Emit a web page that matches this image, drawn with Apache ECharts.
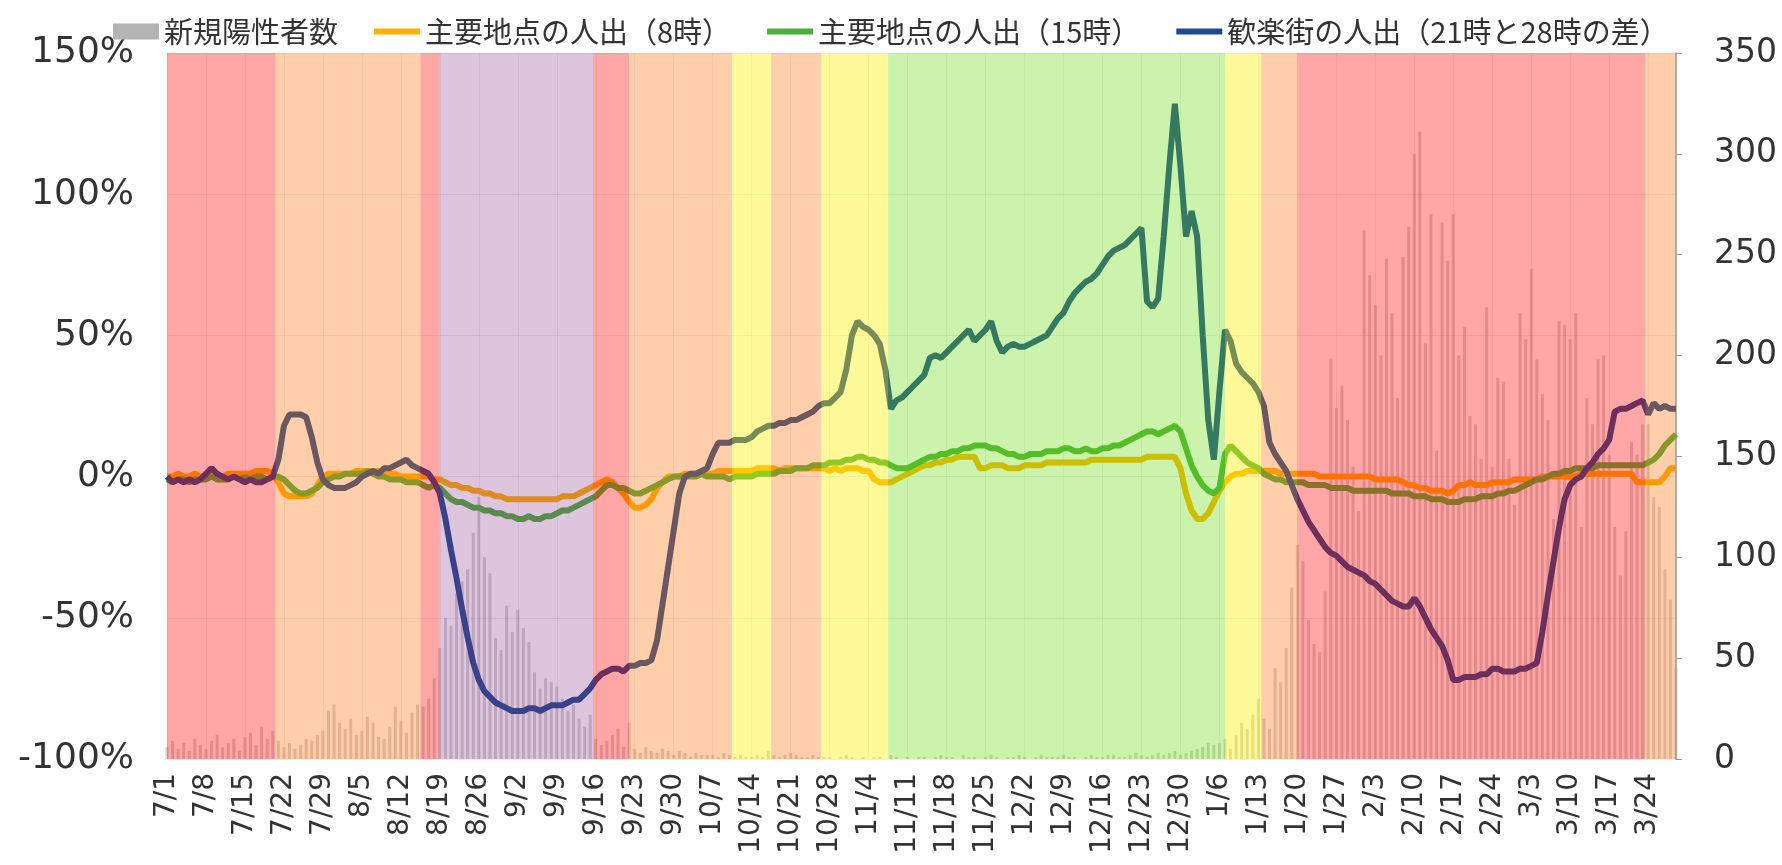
<!DOCTYPE html>
<html>
<head>
<meta charset="utf-8">
<script src="https://cdn.jsdelivr.net/npm/echarts@6/dist/echarts.min.js"></script>
<style>
  html, body { margin: 0; padding: 0; background: #fff; }
  #chart { width: 1782px; height: 865px; }
</style>
</head>
<body>
<div id="chart"></div>
<script>
// 日付ラベル 7/1〜3/29（日次）
const dates = []
for (let d = new Date(2020, 6, 1); d <= new Date(2021, 2, 29); d.setDate(d.getDate() + 1)) {
  dates.push((d.getMonth() + 1) + '/' + d.getDate())
}

// 新規陽性者数（右軸）
const newCases = [
  6, 9, 5, 8, 4, 10, 7,   5, 9, 12, 6, 8, 10, 4,   11, 13, 7, 16, 10, 14, 9,
  6, 8, 5, 7, 10, 9, 12,   14, 24, 27, 18, 15, 20, 12,   14, 21, 18, 11, 10, 16, 26,
  19, 13, 23, 27, 26, 30, 40,   55, 70, 66, 82, 88, 94, 112,   130, 100, 92, 60, 54, 76, 63,
  74, 65, 58, 43, 35, 40, 38,   36, 30, 24, 27, 20, 16, 22,   10, 7, 9, 12, 15, 6, 18,
  5, 3, 6, 4, 3, 5, 4,   2, 4, 3, 1, 3, 2, 2,   2, 1, 3, 2, 1, 2, 1,
  1, 2, 1, 4, 2, 1, 2,   3, 2, 1, 1, 2, 1, 1,   1, 0, 1, 2, 1, 0, 1,
  0, 1, 1, 0, 2, 1, 0,   1, 0, 1, 1, 0, 1, 2,   1, 1, 0, 2, 1, 1, 0,
  1, 2, 1, 0, 1, 1, 2,   1, 0, 1, 2, 1, 1, 1,   2, 1, 1, 0, 1, 2, 1,
  1, 2, 2, 1, 1, 2, 3,   2, 1, 2, 3, 2, 3, 4,   2, 3, 4, 5, 6, 8, 7,
  8, 10, 5, 12, 18, 15, 22,   30, 20, 15, 45, 38, 55, 85,   106, 98, 69, 57, 53, 83, 198,
  174, 185, 168, 145, 123, 262, 240,   225, 200, 248, 221, 179, 249, 264,   300, 311, 206, 270, 153, 266, 247,
  270, 200, 214, 170, 166, 149, 224,   145, 189, 187, 149, 126, 221, 208,   243, 198, 181, 168, 119, 217, 215,
  208, 221, 115, 179, 166, 198, 200,   151, 115, 91, 113, 157, 151, 166,   166, 130, 125, 94, 79, 45
]

// 主要地点の人出（8時） %
const morning8 = [
  0, 0, 1, 0, 0, 1, 0,   0, 1, 0, 0, 1, 1, 1,   1, 1, 2, 2, 2, 1, -2,
  -6, -7, -7, -7, -7, -6, -3,   0, 1, 1, 1, 1, 1, 2,   2, 2, 2, 2, 1, 1, 1,
  0, 0, 0, 0, 0, 0, -1,   -1, -2, -3, -3, -4, -4, -5,   -5, -6, -6, -7, -7, -8, -8,
  -8, -8, -8, -8, -8, -8, -8,   -8, -7, -7, -7, -6, -5, -4,   -3, -2, -1, -2, -4, -6, -9,
  -11, -11, -10, -8, -4, -2, 0,   0, 0, 1, 1, 1, 1, 1,   1, 2, 2, 2, 2, 2, 2,
  2, 3, 3, 3, 3, 2, 3,   3, 3, 3, 3, 3, 3, 3,   2, 3, 2, 3, 3, 3, 2,
  2, -1, -2, -2, -2, -1, 0,   1, 2, 3, 4, 4, 5, 5,   6, 6, 7, 7, 7, 7, 3,
  3, 4, 4, 4, 3, 3, 3,   4, 4, 4, 4, 5, 5, 5,   5, 5, 5, 5, 5, 6, 6,
  6, 6, 6, 6, 6, 6, 6,   6, 7, 7, 7, 7, 7, 7,   3, -6, -12, -15, -15, -13, -9,
  -5, -2, 0, 1, 1, 2, 2,   2, 2, 2, 2, 1, 1, 1,   1, 1, 1, 1, 0, 0, 0,
  0, 0, 0, 0, 0, 0, 0,   -1, -1, -1, -1, -1, -2, -3,   -3, -4, -4, -5, -5, -5, -6,
  -5, -3, -3, -2, -3, -3, -3,   -2, -2, -2, -2, -1, -1, -1,   -1, -1, 0, 0, 0, 0, 0,
  0, 0, 1, 1, 1, 1, 1,   1, 1, 1, 1, 1, -2, -2,   -2, -2, -2, 0, 3, 3
]

// 主要地点の人出（15時） %
const afternoon15 = [
  -1, -2, -1, -1, -2, -1, -1,   -1, 0, -1, -1, -1, 0, -1,   0, -1, 0, 0, -1, 0, 0,
  -1, -3, -5, -6, -6, -5, -4,   -2, -1, 0, 0, 1, 1, 1,   1, 2, 1, 0, 0, -1, -1,
  -1, -2, -2, -2, -3, -4, -3,   -4, -6, -8, -9, -9, -10, -11,   -11, -12, -12, -13, -13, -14, -14,
  -15, -15, -14, -15, -15, -14, -14,   -13, -12, -12, -11, -10, -9, -8,   -7, -5, -3, -3, -4, -4, -5,
  -6, -6, -5, -4, -3, -2, -1,   0, 0, 0, 0, 0, 1, 0,   0, 0, 0, -1, 0, 0, 0,
  0, 1, 1, 1, 1, 2, 2,   2, 3, 3, 3, 4, 4, 4,   5, 5, 5, 6, 6, 7, 7,
  6, 6, 5, 5, 4, 3, 3,   3, 4, 5, 6, 7, 7, 8,   8, 9, 9, 10, 10, 11, 11,
  11, 10, 10, 9, 8, 8, 7,   7, 8, 8, 8, 9, 9, 9,   10, 10, 9, 9, 10, 9, 9,
  10, 10, 11, 11, 12, 13, 14,   15, 16, 16, 15, 16, 17, 18,   16, 10, 4, 0, -3, -5, -6,
  -4, 8, 11, 9, 7, 5, 4,   3, 1, 0, -1, -1, -2, -2,   -2, -2, -3, -3, -3, -3, -4,
  -4, -4, -4, -5, -5, -5, -5,   -5, -5, -5, -6, -6, -6, -6,   -7, -7, -7, -8, -8, -8, -9,
  -9, -9, -8, -8, -8, -7, -7,   -7, -6, -6, -5, -5, -4, -3,   -2, -1, -1, 0, 1, 1, 2,
  2, 3, 3, 3, 3, 4, 4,   4, 4, 4, 4, 4, 4, 4,   5, 6, 8, 11, 13, 15
]

// 歓楽街の人出（21時と28時の差） %
const nightlife = [
  0, -2, -1, -2, -1, -2, -1,   1, 3, 1, 0, -1, 0, -1,   -2, -1, -2, -2, -1, 0, 6,
  18, 22, 22, 22, 21, 14, 5,   -1, -3, -4, -4, -4, -3, -2,   0, 1, 2, 1, 3, 3, 4,
  5, 6, 4, 3, 2, 1, -2,   -6, -15, -26, -36, -47, -57, -66,   -72, -76, -78, -80, -81, -82, -83,
  -83, -83, -82, -82, -83, -82, -81,   -81, -81, -80, -79, -79, -77, -75,   -72, -70, -69, -68, -68, -69, -67,
  -67, -66, -66, -65, -58, -45, -32,   -19, -6, 0, 1, 1, 2, 3,   8, 12, 12, 12, 13, 13, 13,
  14, 16, 17, 18, 18, 19, 19,   20, 20, 21, 22, 23, 25, 26,   26, 28, 30, 38, 50, 55, 53,
  52, 50, 47, 38, 24, 27, 28,   30, 32, 34, 36, 42, 43, 42,   44, 46, 48, 50, 52, 48, 50,
  52, 55, 48, 44, 46, 47, 46,   46, 47, 48, 49, 50, 53, 56,   58, 62, 65, 67, 69, 70, 72,
  75, 78, 80, 81, 82, 84, 86,   88, 62, 60, 63, 85, 110, 132,   110, 85, 94, 85, 50, 20, 6,
  30, 52, 48, 40, 37, 35, 33,   30, 25, 12, 8, 5, 2, -3,   -8, -12, -16, -19, -22, -25, -27,
  -28, -30, -32, -33, -34, -35, -37,   -38, -40, -42, -44, -45, -46, -46,   -43, -46, -50, -54, -57, -60, -65,
  -72, -72, -71, -71, -71, -70, -70,   -68, -68, -69, -69, -69, -68, -68,   -67, -66, -55, -42, -30, -18, -8,
  -3, -1, 0, 3, 5, 8, 10,   13, 23, 24, 24, 25, 26, 27,   22, 26, 24, 25, 24, 24
]

// 背景の期間区分（日インデックス）
const bandStart = [0, 19.5, 45.5, 49, 76.5, 83, 101.5, 108.5, 117.5, 129.5, 190, 196.5, 203, 265.5]
const bandEnd = [19.5, 45.5, 49, 76.5, 83, 101.5, 108.5, 117.5, 129.5, 190, 196.5, 203, 265.5, 271]
const bandKind = ['red', 'orange', 'red', 'purple', 'red', 'orange', 'yellow', 'orange', 'yellow', 'green', 'yellow', 'orange', 'red', 'orange']

const leftTicks = [-100, 150, 50]
const rightTicks = [0, 350, 50]

const bandColors = {
  red: 'rgba(255,0,0,0.35)',
  orange: 'rgba(255,112,6,0.34)',
  purple: 'rgba(128,40,130,0.27)',
  yellow: 'rgba(255,240,0,0.40)',
  green: 'rgba(100,220,0,0.33)'
}

const chart = echarts.init(document.getElementById('chart'))
const labelFont = 'DejaVu Sans'
const lineIcon = 'path://M0,0H46V6H0Z'

const option = {
  animation: false,
  backgroundColor: '#fff',
  legend: {
    left: 108,
    top: 12,
    itemGap: 36,
    itemWidth: 46,
    itemHeight: 16,
    textStyle: { fontSize: 29, fontFamily: 'Noto Sans CJK JP', color: '#333' },
    data: [
      { name: '新規陽性者数', icon: 'rect', itemStyle: { color: '#b4b4b4', opacity: 1 } },
      { name: '主要地点の人出（8時）', icon: lineIcon },
      { name: '主要地点の人出（15時）', icon: lineIcon },
      { name: '歓楽街の人出（21時と28時の差）', icon: lineIcon }
    ]
  },
  grid: { left: 167, right: 106, top: 53, bottom: 106 },
  xAxis: [
    {
      type: 'category',
      data: dates,
      boundaryGap: false,
      axisLine: { show: false },
      axisTick: { show: false },
      axisLabel: {
        interval: 6,
        rotate: 90,
        margin: 14,
        fontSize: 28,
        fontFamily: labelFont,
        color: '#333'
      },
      splitLine: { show: true, interval: 6, lineStyle: { color: 'rgba(0,0,0,0.06)', width: 1 } }
    },
    {
      type: 'value',
      min: 0,
      max: 271,
      show: false
    }
  ],
  yAxis: [
    {
      type: 'value',
      min: leftTicks[0],
      max: leftTicks[1],
      interval: leftTicks[2],
      axisLine: { show: false },
      axisTick: { show: false },
      axisLabel: {
        formatter: '{value}%',
        margin: 33,
        fontSize: 36,
        fontFamily: labelFont,
        color: '#333'
      },
      splitLine: { lineStyle: { color: 'rgba(0,0,0,0.07)' } }
    },
    {
      type: 'value',
      position: 'right',
      min: rightTicks[0],
      max: rightTicks[1],
      interval: rightTicks[2],
      axisLine: { show: true, lineStyle: { color: '#999', width: 1.5 } },
      axisTick: { show: true, length: 6, lineStyle: { color: '#999' } },
      axisLabel: {
        margin: 38,
        fontSize: 33,
        fontFamily: labelFont,
        color: '#333'
      },
      splitLine: { show: false }
    }
  ],
  series: [
    {
      name: '新規陽性者数',
      type: 'bar',
      yAxisIndex: 1,
      data: newCases,
      barWidth: 3,
      itemStyle: { color: 'rgba(170,170,170,0.5)' },
      z: 1
    },
    {
      name: '主要地点の人出（8時）',
      type: 'line',
      data: morning8,
      symbol: 'none',
      lineStyle: { color: '#ffb000', width: 6 },
      itemStyle: { color: '#ffb000' },
      z: 2
    },
    {
      name: '主要地点の人出（15時）',
      type: 'line',
      data: afternoon15,
      symbol: 'none',
      lineStyle: { color: '#4caf3c', width: 6 },
      itemStyle: { color: '#4caf3c' },
      z: 3
    },
    {
      name: '歓楽街の人出（21時と28時の差）',
      type: 'line',
      data: nightlife,
      symbol: 'none',
      lineStyle: { color: '#1f4b8f', width: 6 },
      itemStyle: { color: '#1f4b8f' },
      z: 4
    },
    {
      name: 'bands',
      type: 'custom',
      xAxisIndex: 1,
      yAxisIndex: 0,
      silent: true,
      z: 10,
      data: bandStart.map((s, i) => [s, bandEnd[i]]),
      encode: { x: [0, 1] },
      renderItem: (params, api) => {
        const p0 = api.coord([api.value(0), leftTicks[1]])
        const p1 = api.coord([api.value(1), leftTicks[0]])
        return {
          type: 'rect',
          shape: { x: p0[0], y: p0[1], width: p1[0] - p0[0], height: p1[1] - p0[1] },
          style: { fill: bandColors[bandKind[params.dataIndex]] }
        }
      }
    }
  ]
}

chart.setOption(option)
</script>
</body>
</html>
